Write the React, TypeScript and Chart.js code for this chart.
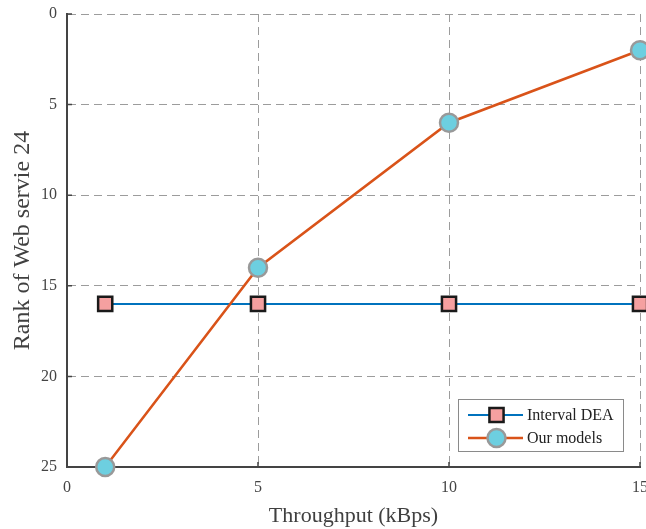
import React, { useEffect, useRef } from "react";
import { Chart, registerables } from "chart.js";

Chart.register(...registerables);

// Throughput settings (kBps)
const throughput = [1, 5, 10, 15];
// Rank of web service 24 under each approach
const intervalDEA = [16, 16, 16, 16];
const ourModels = [25, 14, 6, 2];
const seriesLabels = ["Interval DEA", "Our models"];
const xTicks = [0, 5, 10, 15];
const yTicks = [0, 5, 10, 15, 20, 25];

const SERIF = "'Liberation Serif', 'Times New Roman', serif";
const AXIS_DARK = "#444444";
const GRID = "#9c9c9c";
const DASH = [8, 5];

// Small inward tick marks on the left and bottom axes
const innerTicks = {
  id: "innerTicks",
  afterDraw(chart: any) {
    const { ctx, chartArea, scales } = chart;
    ctx.save();
    ctx.strokeStyle = AXIS_DARK;
    ctx.lineWidth = 1.5;
    ctx.beginPath();
    for (const v of yTicks) {
      const py = scales.y.getPixelForValue(v);
      ctx.moveTo(chartArea.left, py);
      ctx.lineTo(chartArea.left + 5, py);
    }
    for (const v of xTicks) {
      const px = scales.x.getPixelForValue(v);
      ctx.moveTo(px, chartArea.bottom);
      ctx.lineTo(px, chartArea.bottom - 5);
    }
    ctx.stroke();
    ctx.restore();
  },
};

// Boxed legend with line + marker samples
const boxLegend = {
  id: "boxLegend",
  afterDraw(chart: any) {
    const { ctx, chartArea } = chart;
    const bx = chartArea.right - 182;
    const by = chartArea.bottom - 68;
    const bw = 165;
    const bh = 52;
    ctx.save();
    ctx.fillStyle = "#ffffff";
    ctx.fillRect(bx, by, bw, bh);
    ctx.strokeStyle = "#8a8a8a";
    ctx.lineWidth = 1;
    ctx.strokeRect(bx + 0.5, by + 0.5, bw, bh);
    chart.data.datasets.forEach((ds: any, i: number) => {
      const cy = by + 16 + i * 23;
      const x0 = bx + 10;
      const x1 = bx + 65;
      const mx = (x0 + x1) / 2 + 1;
      ctx.strokeStyle = ds.borderColor;
      ctx.lineWidth = ds.borderWidth;
      ctx.beginPath();
      ctx.moveTo(x0, cy);
      ctx.lineTo(x1, cy);
      ctx.stroke();
      ctx.fillStyle = ds.pointBackgroundColor;
      ctx.strokeStyle = ds.pointBorderColor;
      ctx.lineWidth = ds.pointBorderWidth;
      ctx.beginPath();
      if (ds.pointStyle === "rect") {
        const s = Math.SQRT1_2 * ds.pointRadius;
        ctx.rect(mx - s, cy - s, 2 * s, 2 * s);
      } else {
        ctx.arc(mx, cy, ds.pointRadius, 0, Math.PI * 2);
      }
      ctx.fill();
      ctx.stroke();
      ctx.fillStyle = "#222222";
      ctx.font = `16px ${SERIF}`;
      ctx.textAlign = "left";
      ctx.textBaseline = "middle";
      ctx.fillText(ds.label, x1 + 4, cy + 1);
    });
    ctx.restore();
  },
};

export default function App() {
  const ref = useRef<HTMLCanvasElement>(null);

  useEffect(() => {
    if (!ref.current) return;
    const chart = new Chart(ref.current, {
      type: "line",
      data: {
        datasets: [
          {
            label: seriesLabels[0],
            data: throughput.map((x, i) => ({ x, y: intervalDEA[i] })),
            borderColor: "#0072BD",
            borderWidth: 2,
            pointStyle: "rect",
            pointRadius: 10,
            pointBackgroundColor: "#F5A0A0",
            pointBorderColor: "#1a1a1a",
            pointBorderWidth: 2.5,
            clip: false,
            order: 1,
          } as any,
          {
            label: seriesLabels[1],
            data: throughput.map((x, i) => ({ x, y: ourModels[i] })),
            borderColor: "#D95319",
            borderWidth: 2.5,
            pointStyle: "circle",
            pointRadius: 9,
            pointBackgroundColor: "#6DCFE0",
            pointBorderColor: "#999999",
            pointBorderWidth: 2.5,
            clip: false,
            order: 0,
          } as any,
        ],
      },
      options: {
        animation: false,
        responsive: false,
        maintainAspectRatio: false,
        layout: { autoPadding: false, padding: { top: 14, right: 6, left: 0, bottom: 0 } },
        plugins: {
          legend: { display: false },
          tooltip: { enabled: false },
        },
        scales: {
          x: {
            type: "linear",
            min: 0,
            max: 15,
            afterFit(scale: any) {
              scale.height = 62;
              scale.paddingLeft = 0;
              scale.paddingRight = 0;
            },
            afterBuildTicks(scale: any) {
              scale.ticks = xTicks.map((v) => ({ value: v }));
            },
            grid: { color: GRID, lineWidth: 1, drawTicks: false },
            border: { display: true, color: AXIS_DARK, width: 2, dash: DASH },
            ticks: {
              padding: 11,
              color: AXIS_DARK,
              font: { family: SERIF, size: 16 },
            },
            title: {
              display: true,
              text: "Throughput (kBps)",
              color: "#404040",
              font: { family: SERIF, size: 22 },
              padding: { top: 0, bottom: 0 },
            },
          },
          y: {
            type: "linear",
            reverse: true,
            min: 0,
            max: 25,
            afterFit(scale: any) {
              scale.width = 67;
              scale.paddingTop = 0;
              scale.paddingBottom = 0;
            },
            afterBuildTicks(scale: any) {
              scale.ticks = yTicks.map((v) => ({ value: v }));
            },
            grid: { color: GRID, lineWidth: 1, drawTicks: false },
            border: { display: true, color: AXIS_DARK, width: 2, dash: DASH },
            ticks: {
              padding: 10,
              color: AXIS_DARK,
              font: { family: SERIF, size: 16 },
            },
            title: {
              display: true,
              text: "Rank of Web servie 24",
              color: "#404040",
              font: { family: SERIF, size: 24 },
              padding: { top: 8, bottom: 0 },
            },
          },
        },
      } as any,
      plugins: [innerTicks, boxLegend],
    });
    return () => chart.destroy();
  }, []);

  return (
    <div style={{ position: "fixed", left: 0, top: 0, width: 646, height: 529, background: "#fff" }}>
      <canvas ref={ref} width={646} height={529} />
    </div>
  );
}
